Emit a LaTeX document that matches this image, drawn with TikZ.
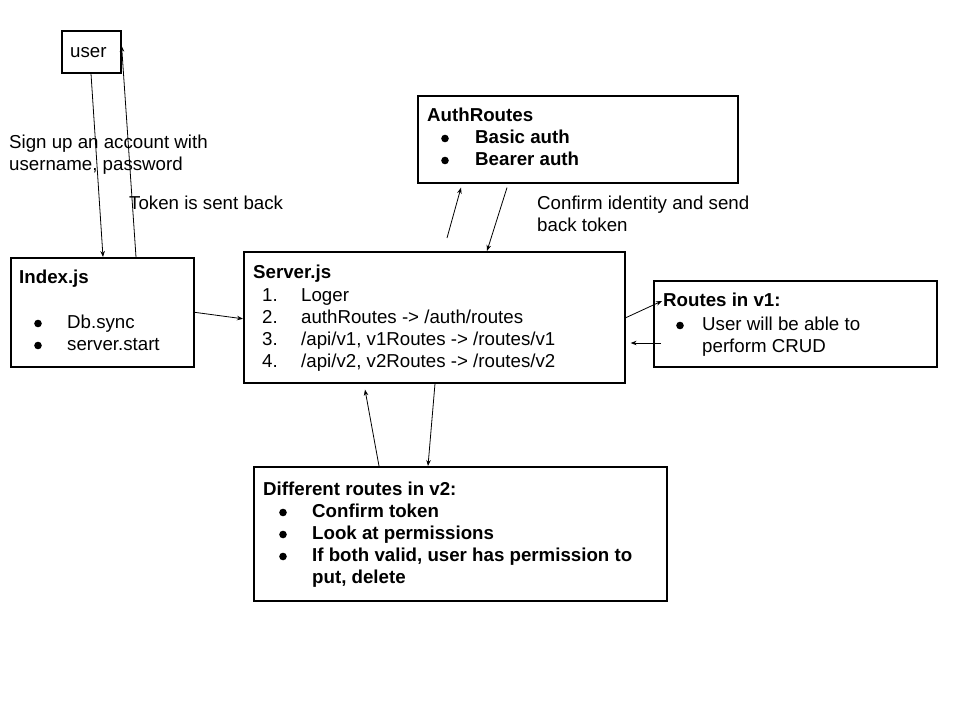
\documentclass[tikz,border=0pt]{standalone}
\usepackage{fontspec}
\setmainfont{Liberation Sans}
\usetikzlibrary{arrows.meta}
\begin{document}
\begin{tikzpicture}[x=1pt,y=-1pt,
  box/.style={draw, line width=1.6pt, inner sep=0pt, anchor=north west},
  txt/.style={anchor=base west, inner sep=0pt, font=\fontsize{18.7}{22}\selectfont},
  btxt/.style={anchor=base west, inner sep=0pt, font=\fontsize{18.7}{22}\selectfont\bfseries},
  conn/.style={line width=0.8pt, -{Stealth[length=6pt,width=4.5pt]}}]
\useasboundingbox (0,0) rectangle (960,720);
\fill[white] (0,0) rectangle (960,720);
% boxes
\node[box, minimum width=59pt, minimum height=42pt] (user) at (61,30) {};
\node[box, minimum width=183pt, minimum height=109pt] (idx) at (10,257) {};
\node[box, minimum width=381pt, minimum height=131pt] (srv) at (243,251) {};
\node[box, minimum width=320pt, minimum height=87pt] (auth) at (417,95) {};
\node[box, minimum width=283pt, minimum height=86pt] (v1) at (653,280) {};
\node[box, minimum width=413pt, minimum height=134pt] (diff) at (253,466) {};
% texts
\node[txt] (tuser) at (70,57) {user};
\node[txt] (lsign1) at (9,148) {Sign up an account with};
\node[txt] (lsign2) at (9,170) {username, password};
\node[txt] (ltoken) at (129,209) {Token is sent back};
\node[txt] (lconf1) at (537,209) {Confirm identity and send};
\node[txt] (lconf2) at (537,231) {back token};
% AuthRoutes
\node[btxt] (tauth) at (427,121) {AuthRoutes};
\fill (445,138.5) circle (3.8pt);
\node[btxt] (tauth1) at (475,143) {Basic auth};
\fill (445,160.5) circle (3.8pt);
\node[btxt] (tauth2) at (475,165) {Bearer auth};
% Index.js
\node[btxt] (tidx) at (19,283) {Index.js};
\fill (38,323.5) circle (3.8pt);
\node[txt] (tidx1) at (67,328) {Db.sync};
\fill (38,345.5) circle (3.8pt);
\node[txt] (tidx2) at (67,350) {server.start};
% Server.js
\node[btxt] (tsrv) at (253,278) {Server.js};
\node[txt] (n1) at (262,301) {1.};
\node[txt] (s1) at (301,301) {Loger};
\node[txt] (n2) at (262,323) {2.};
\node[txt] (s2) at (301,323) {authRoutes -> /auth/routes};
\node[txt] (n3) at (262,345) {3.};
\node[txt] (s3) at (301,345) {/api/v1, v1Routes -> /routes/v1};
\node[txt] (n4) at (262,367) {4.};
\node[txt] (s4) at (301,367) {/api/v2, v2Routes -> /routes/v2};
% Routes in v1
\node[btxt] (tv1) at (663,306) {Routes in v1:};
\fill (680,325.5) circle (3.8pt);
\node[txt] (tv11) at (702,330) {User will be able to};
\node[txt] (tv12) at (702,352) {perform CRUD};
% Different routes in v2
\node[btxt] (tdiff) at (263,495) {Different routes in v2:};
\fill (283,512.5) circle (3.8pt);
\node[btxt] (td1) at (312,517) {Confirm token};
\fill (283,534.5) circle (3.8pt);
\node[btxt] (td2) at (312,539) {Look at permissions};
\fill (283,556.5) circle (3.8pt);
\node[btxt] (td3) at (312,561) {If both valid, user has permission to};
\node[btxt] (td4) at (312,583) {put, delete};
% connectors
\draw[conn] ([xshift=30pt]user.south west) -- ([xshift=93pt]idx.north west);
\draw[conn] ([xshift=126pt]idx.north west) -- ([yshift=6pt]user.east);
\draw[conn] (idx.east) -- ([yshift=-1.5pt]srv.west);
\draw[conn] ([xshift=204pt,yshift=13pt]srv.north west) -- ([xshift=44pt,yshift=-4pt]auth.south west);
\draw[conn] ([xshift=90pt,yshift=-4pt]auth.south west) -- ([xshift=244pt]srv.north west);
\draw[conn] ([yshift=-0.5pt]srv.east) -- ([xshift=9pt,yshift=-21pt]v1.north west);
\draw[conn] ([xshift=8pt,yshift=-63pt]v1.north west) -- ([xshift=5pt,yshift=-92pt]srv.north east);
\draw[conn] ([xshift=126pt]diff.north west) -- ([xshift=122pt,yshift=-6pt]srv.south west);
\draw[conn] ([xshift=192pt]srv.south west) -- ([xshift=175pt]diff.north west);
\end{tikzpicture}
\end{document}
